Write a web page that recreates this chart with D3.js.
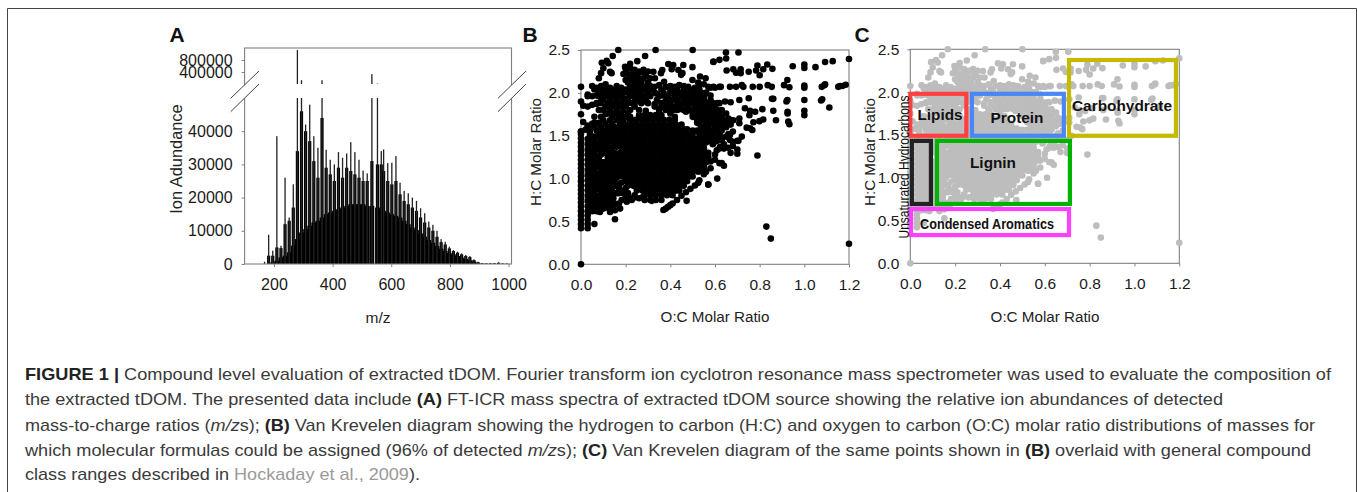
<!DOCTYPE html>
<html><head><meta charset="utf-8">
<script src="https://cdn.jsdelivr.net/npm/d3@7"></script>
<style>
html,body{margin:0;padding:0;background:#fff;overflow:hidden}
svg{display:block}
text{font-family:"Liberation Sans",Arial,sans-serif}
</style></head><body>
<svg id="c" width="1357" height="492"></svg>
<script>
// ---------- Panel A: spectrum ----------
const specMz = [168,182,196,210,224,238,252,266,280,294,308,322,336,350,364,378,392,406,420,434,448,462,476,490,504,518,534,553,566,574,588,602,616,630,644,658,672,686,700,714,728,742,756,770,784,798,812,826,840,854,868,882,896,910,924,938,952,966,980,994];
const specPeak = [700,8800,4000,38500,5500,26000,14000,24000,1130000,160000,42000,48000,38500,35000,160000,34400,31400,30000,33700,32000,33300,36700,33700,31400,28100,27300,340000,62000,34000,34500,30400,30500,32500,24500,22000,21300,20000,19000,16800,15300,12800,11800,10000,7500,6700,5200,4200,3700,3200,2700,2400,1400,700,300,250,250,300,500,200,150];
const specShoulder = [0,2500,2500,5000,4800,12000,13000,17000,34000,46000,40000,37000,31000,26000,44000,29000,27000,25000,29000,26000,29000,28000,27000,26000,25000,25000,31000,30000,30000,28000,25000,24000,25000,21000,19000,18000,17000,16000,14000,12500,11000,10000,8200,6600,5900,4700,3900,3400,2900,2400,2100,1200,550,220,180,180,220,350,120,100];
const specFloor = [0,0,500,1000,2000,2500,3500,5500,7500,9500,10500,11500,12500,13000,14000,15000,15500,16000,16500,17000,17500,18000,18000,18000,18000,17500,17500,17000,16500,16000,15500,15000,14500,14000,13000,12000,11000,10200,9200,8200,7200,6400,5400,4600,3900,3300,2900,2400,1900,1500,1100,700,250,0,0,0,0,0,0,0];
const specXTicks = [200,400,600,800,1000];
const specYLowTicks = [0,10000,20000,30000,40000];
const specYHighTicks = [400000,800000];

// ---------- Panels B, C: Van Krevelen points ----------
const rowHC = [1.74,1.685,1.63,1.575,1.52,1.465,1.41,1.355,1.30,1.245,1.19,1.135,1.08,1.025,0.97,0.915,0.86,0.805,0.75,
 2.04,2.0,1.96,1.92,1.88,1.84,1.80,1.76,1.72,1.68,1.64,1.60,1.56,1.52,1.48,1.44,
 .65,.71,.77,.83,.89,.95,1.01,1.07,1.13,1.19,1.25,1.31,1.37,1.43,1.49];
const rowOC = [
[26,28.5,31,33.5,36],
[22,24.5,27,29.5,32,34.5,37,39.5,42],
[17.5,20,22.5,25,27.5,30,32.5,35,37.5,40,42.5,45],
[14,16,18.5,21,23.5,26,28.5,31,33.5,36,38.5,41,43.5,46,47.5],
[12.5,15,17.5,20,22.5,25,27.5,30,32.5,35,37.5,40,42.5,45,47.5,50],
[9,13.5,16,18.5,21,23.5,26,28.5,31,33.5,36,38.5,41,43.5,46,48.5,51,52.5],
[10,15,17.5,20,22.5,25,27.5,30,32.5,35,37.5,40,42.5,45,47.5,50,52.5,54],
[8,11,13.5,18.5,21,23.5,26,28.5,31,33.5,36,38.5,41,43.5,46,48.5,51,53.5,55],
[10,12.5,15,17.5,20,22.5,25,27.5,30,32.5,35,37.5,40,42.5,45,47.5,50,52.5,55,56],
[8,13.5,16,18.5,21,23.5,26,28.5,31,33.5,36,38.5,41,43.5,46,48.5,51,53.5,56],
[10,15,17.5,20,22.5,25,27.5,30,32.5,35,37.5,40,42.5,45,47.5,50,52.5,55,56],
[8,11,13.5,16,18.5,21,23.5,26,28.5,31,33.5,36,38.5,41,43.5,46,48.5,51,53.5,55],
[10,12.5,17.5,20,22.5,25,27.5,30,32.5,35,37.5,40,42.5,45,47.5,50,52.5],
[8,13.5,16,18.5,21,23.5,26,28.5,31,33.5,36,38.5,41,43.5,46,48.5,50],
[10,15,20,22.5,25,27.5,30,32.5,35,37.5,40,42.5,45,47.5],
[12,16,21,23.5,26,28.5,31,33.5,36,38.5,41,43.5,46],
[19,25,27.5,30,32.5,35,37.5,40,42.5,44],
[24,28.5,31,33.5,36,38.5,41],
[28.5,31,33.5,36],
// upper band
[6,8,10,12,14,16,18,20,23,26,29,32,36,40,43,46,50,53],
[9,11,13,15,17,19,21,24,27,30,33,37,41,44,47,49,51,54,56],
[3,5,8,10,12,14,18,22,25,28,31,35,39,42,45,48,50,52,55],
[10,13,16,19,21,26,29,34,38,41,43,46,49,51,53,55,58],
[7,9,12,15,18,23,27,30,37,40,44,47,50,52,54,56,59,62],
[11,14,17,20,24,33,36,39,42,45,48,51,53,55,57,60],
[8,10,13,16,19,22,35,38,41,43,46,49,52,54,56,58,61,63],
[12,15,18,21,40,50,53,55,57,59,62,65],
[6,9,14,17,20,22,42,51,54,56,58,60,63],
[10,13,16,19,52,55,57,60,62,64,67],
[5,8,11,14,53,56,58,61,64,66],
[3,6,9,12,15,54,57,60,63],
[7,10,13,50,52,55,58,61],
[4,8,53,56,59,62],
[6,54,57,60,63,66],
[55,58,61],
// left mass
[4,6,8,10],
[4,6,9,11,13,15,17],
[4,6,8,10,12,14,20,22],
[4,6,9,11,13,15,17,19,21],
[4,6,8,10,12,14,17,20],
[4,6,9,11,13,15,18],
[4,6,8,10,12,14,16],
[4,6,9,11,13,15,18],
[4,6,8,10,14,16],
[4,6,9,11,13,18],
[4,6,8,12,15,17],
[4,6,9,11,14,19],
[4,6,8,10,12,16],
[4,6,9,11,13,15,18],
[4,6,8,10,12]
];
const sparseOC = [
0,1.2,1.2,.83,.85,.79,.61,.57,.63,.473,.152,.06,
.649,.705,.593,.62,.65,.948,1,1,1.05,1.093,1.127,
.79,.784,.834,.857,.816,.80,.652,.682,.694,.715,.715,.751,
.593,.626,.667,.694,.72,.727,.769,.80,.836,.854,.924,.909,.933,1,1.078,1.093,1.152,1.185,1.16,1.17,1.09,1,
.645,.67,.709,.751,.861,.924,1,1.08,1.112,.855,.92,1.075,
.734,.757,.754,.78,.812,.861,.925,1,1,.709,.66,.682,.925,
.772,.799,.816,.873,.928,.933,.709,.757,.742,.767,.72,.705,.667,.667,.623,.638,.593,.608,
.167,.334,.5,.142,.287,.252,.22,.197,.093,.115,.122,.10,.09,.08,.13,.137,
.324,.358,.364,.331,.372,.391,.413,.406,.458,.436,.448,.454,.499,.499,.525,.533,.558,.593,
.2,.22,.24,.26,.28,.3,.19,.21,.23,.25,.27,.29,.31,.2,.22,.24,.26,.28,.3,.21,.23,.25,.27,.29,.22,.24,.26,.28,.25,.27,
.0,.05,.07,.09,.11,.13,.16,.18,.31,.33,.35,.38,.40,.42,.44,.46,.48,.51,.53,.55,.57,.58,.60,.62,
0,0,.0,.01,.03,.05,.07,.03,.08,.1,.12,.14,.16,.18,.2,.22,.1,.13,.15,.17,.19,.21,.07,.09,.11,.14,.16,.18,.05,.08,.1,.12,.14,.03,.06,.02,.01,.04,
.24,.27,.3,.34,.37,.4,.43,.46,.24,.28,.33,.36,.39,.43,.45,.48,.41,.44,.47,.26,.29,.35,.38,.41,.44,.47,.5,.43,.46,.49,
.5,.52,.54,.56,.58,.5,.53,.55,.57,.59,.61,.51,.53,.55,.57,.6,.5,.52,.54,.58,.6,.62,.65,.52,.54,.56,.59,.62,.65,.67,.53,.55,.57,.6,.63,.66,.68,.55,.58,.6,.63,.65,.68,.7,
.56,.59,.61,.64,.66,.68,.7,.57,.6,.64,.67,.7,.57,.59,.62,.64,.58,.6,.62,.64,
.369,.38,.39,.40,.41,.43,.45,.47,.49,.51,.53,.55,.56,.525,.57,.54,.58,
.085,.13,.152,.175,.145,.16,.182,.205,.227,.279,.317,.11,.12,.14,.16,.18,.2,.24,.26,
0,0,0,0,0,0,0,0,0,0,0,0,0,0,0,0,0,0,0,0,0,0,0,0,
.03,.03,.03,.03,.03,.03,.03,.03,.03,.03,.03,.03,.03,.03,.03,.03,.03,.03,.03,
.05,.05,.05,.05,.05,.05,.05,.05,.05,.05,.05,.05,.05,.05,
.07,.07,.07,.07,.07,.07,.07,.07,.07,.07,.07,.07,.07,
.09,.09,.09,.09,.09,.09,.09,.09,.09,.09
];
const sparseHC = [
0,2.395,.24,.44,.3,1.27,1.0,.93,1.18,.74,.525,.47,
2.47,2.47,2.36,2.385,2.40,2.31,2.33,2.29,2.30,2.36,2.37,
2.32,2.26,2.33,2.28,2.275,2.205,2.26,2.275,2.235,2.275,2.23,2.247,
2.07,2.07,2.07,2.07,2.09,2.07,2.07,2.07,2.09,2.07,2.15,2.09,2.065,2.085,2.07,2.10,2.07,2.095,2.08,2.08,2.09,2.06,
1.90,1.89,1.917,1.937,1.93,1.917,1.917,1.925,1.83,1.93,1.9,1.91,
1.82,1.79,1.74,1.78,1.81,1.79,1.78,1.79,1.74,1.70,1.70,1.68,1.76,
1.657,1.67,1.69,1.68,1.664,1.634,1.645,1.587,1.594,1.567,1.49,1.44,1.51,1.45,1.37,1.37,1.41,1.33,
2.5,2.5,2.5,2.43,2.43,2.37,2.34,2.305,2.35,2.375,2.345,2.287,2.23,2.17,2.247,2.23,
2.247,2.23,2.267,2.17,2.13,2.337,2.325,2.275,2.325,2.267,2.21,2.23,2.3,2.15,2.12,2.19,2.17,2.365,
2.28,2.29,2.27,2.25,2.27,2.25,2.22,2.22,2.22,2.22,2.24,2.2,2.17,2.15,2.17,2.17,2.17,2.17,2.12,2.12,2.12,2.12,2.12,2.07,2.07,2.07,2.07,2.07,2.03,2.03,
2.07,2.08,2.06,2.08,2.1,2.06,2.08,2.06,2.08,2.07,2.09,2.07,2.08,2.07,2.09,2.08,2.07,2.06,2.1,2.1,2.07,2.06,2.06,2.07,
1.9,1.75,1.55,1.85,1.84,1.86,1.97,1.98,2.0,1.96,2.05,1.96,1.94,1.98,1.93,1.98,1.97,1.95,1.87,1.86,1.84,1.88,1.87,1.9,1.75,1.73,1.78,1.7,1.62,1.65,1.55,1.55,1.6,1.62,1.65,1.57,1.66,1.55,
1.95,1.97,2.0,1.99,1.97,2.0,2.0,2.0,1.88,1.9,1.87,1.88,1.89,1.9,1.87,1.87,1.83,1.81,1.78,1.8,1.79,1.8,1.81,1.8,1.82,1.8,1.79,1.92,1.94,1.91,
2.0,1.98,1.95,2.0,1.97,1.9,1.87,1.88,1.85,1.86,1.88,1.8,1.78,1.8,1.82,1.79,1.72,1.74,1.71,1.7,1.69,1.7,1.62,1.65,1.6,1.62,1.65,1.62,1.6,1.63,1.55,1.55,1.57,1.55,1.56,1.52,1.55,1.47,1.49,1.47,1.45,1.49,1.43,1.44,
1.42,1.4,1.45,1.4,1.36,1.38,1.34,1.3,1.28,1.35,1.3,1.29,1.25,1.41,1.35,1.37,1.2,1.22,1.18,1.15,
.634,.65,.67,.69,.71,.75,.80,.84,.88,.92,.98,1.05,1.08,.95,.93,1.1,1.12,
.61,.61,.63,.65,.77,.83,.75,.73,.75,.79,.74,.72,.66,.67,.7,.85,.8,.78,.77,
.42,.47,.52,.57,.62,.67,.72,.77,.82,.87,.92,.97,1.02,1.07,1.12,1.17,1.22,1.27,1.32,1.37,1.42,1.47,1.52,1.55,
.42,.47,.52,.57,.62,.68,.74,.8,.86,.92,.98,1.04,1.1,1.16,1.22,1.28,1.34,1.4,1.46,
.62,.68,.74,.8,.86,.92,.98,1.04,1.1,1.16,1.22,1.28,1.36,1.44,
.62,.68,.74,.8,.88,.94,1.0,1.06,1.14,1.2,1.26,1.34,1.42,
.66,.72,.78,.86,.92,1.0,1.06,1.18,1.28,1.38
];
const vkXTicks = [0,.2,.4,.6,.8,1,1.2];
const vkYTicks = [0,.5,1,1.5,2,2.5];

// ---------- Panel C: class boxes ----------
const boxNames = ["Lipids","Protein","Carbohydrate","Unsaturated","Lignin","Condensed"];
const boxO0 = [0,.275,.708,.007,.119,.003];
const boxO1 = [.25,.685,1.185,.092,.712,.708];
const boxH0 = [1.49,1.49,1.49,.693,.693,.33];
const boxH1 = [1.98,1.98,2.375,1.43,1.43,.634];
const boxColors = ["#ff4040","#4a86f5","#c4bb00","#222222","#00b300","#ff40ff"];

const captionLines = [
 {end:1331,parts:[["FIGURE 1 | ","b"],["Compound level evaluation of extracted tDOM. Fourier transform ion cyclotron resonance mass spectrometer was used to evaluate the composition of",""]]},
 {end:1223,parts:[["the extracted tDOM. The presented data include ",""],["(A) ","b"],["FT-ICR mass spectra of extracted tDOM source showing the relative ion abundances of detected",""]]},
 {end:1315,parts:[["mass-to-charge ratios (",""],["m/z","i"],["s); ",""],["(B) ","b"],["Van Krevelen diagram showing the hydrogen to carbon (H:C) and oxygen to carbon (O:C) molar ratio distributions of masses for",""]]},
 {end:1311,parts:[["which molecular formulas could be assigned (96% of detected ",""],["m/z","i"],["s); ",""],["(C) ","b"],["Van Krevelen diagram of the same points shown in ",""],["(B) ","b"],["overlaid with general compound",""]]},
 {end:420,parts:[["class ranges described in ",""],["Hockaday et al., 2009","g"],[").",""]]}
];
const captionBase = [380,405,431,456,480];

const svg = d3.select("#c");
const GRAY = "#808080", INK = "#1a1a1a";

svg.append("path").attr("d","M7.5,492V8.5H1356.5V492").attr("fill","none").attr("stroke","#444").attr("stroke-width",1);

function styleAxis(g,fs){
  g.selectAll("path").remove();
  g.selectAll("line").attr("stroke",GRAY).attr("stroke-width",1);
  g.selectAll("text").attr("font-size",fs).attr("fill",INK).attr("font-family","Liberation Sans");
}
function frame(x0,x1,y0,y1){
  svg.append("rect").attr("x",x0).attr("y",y0).attr("width",x1-x0).attr("height",y1-y0)
    .attr("fill","none").attr("stroke",GRAY).attr("stroke-width",1.1);
}
function label(t,x,y,o={}){
  const e=svg.append("text").attr("x",x).attr("y",y).attr("text-anchor",o.anchor||"middle")
   .attr("font-size",o.size||15.2).attr("fill",o.fill||"#222").attr("font-weight",o.weight||"normal").text(t);
  if(o.rot) e.attr("transform",`rotate(${o.rot} ${x} ${y})`);
  if(o.len) e.attr("textLength",o.len).attr("lengthAdjust","spacingAndGlyphs");
  return e;
}

// ---- A ----
const xA = d3.scaleLinear().domain([100,1010]).range([244.6,511.5]);
const yLow = d3.scaleLinear().domain([0,50000]).range([264,98]).clamp(true);
const yHigh = d3.scaleLinear().domain([50000,400000,800000,1200000]).range([84,72,60,48]).clamp(true);
const specIdx = d3.range(specMz.length);
const gA = svg.append("g");
gA.selectAll(".f").data(specIdx).join("rect")
  .attr("x",i=>xA(specMz[i])-2.4).attr("width",4.8).attr("y",i=>yLow(specFloor[i]))
  .attr("height",i=>yLow(0)-yLow(specFloor[i])).attr("fill","#000");
gA.selectAll(".s").data(specIdx).join("rect")
  .attr("x",i=>xA(specMz[i])-1.6).attr("width",3.2).attr("y",i=>yLow(specShoulder[i]))
  .attr("height",i=>yLow(0)-yLow(specShoulder[i])).attr("fill","#000");
gA.selectAll(".p").data(specIdx).join("rect")
  .attr("x",i=>xA(specMz[i])-.65).attr("width",1.3).attr("y",i=>yLow(specPeak[i]))
  .attr("height",i=>yLow(0)-yLow(specPeak[i])).attr("fill","#222");
gA.selectAll(".u").data(specIdx.filter(i=>specPeak[i]>50000)).join("rect")
  .attr("x",i=>xA(specMz[i])-.65).attr("width",1.3).attr("y",i=>yHigh(specPeak[i]))
  .attr("height",i=>yHigh(50000)-yHigh(specPeak[i])).attr("fill","#222");
frame(244.6,511.5,48,264);
svg.append("g").attr("transform","translate(0,264)")
  .call(d3.axisBottom(xA).tickValues(specXTicks).tickFormat(d3.format("d")).tickSize(3).tickPadding(12))
  .call(g=>styleAxis(g,16));
svg.append("g").attr("transform","translate(244.6,0)")
  .call(d3.axisLeft(yLow).tickValues(specYLowTicks).tickFormat(d3.format("d")).tickSize(3).tickPadding(9))
  .call(g=>styleAxis(g,16));
svg.append("g").attr("transform","translate(244.6,0)")
  .call(d3.axisLeft(yHigh).tickValues(specYHighTicks).tickFormat(d3.format("d")).tickSize(3).tickPadding(9))
  .call(g=>styleAxis(g,16));
[[230.7,259],[498,526]].forEach(([a,b])=>{
  svg.append("polygon").attr("points",`${a},98.3 ${b},71 ${b},84 ${a},111.7`).attr("fill","#fff");
  svg.append("line").attr("x1",a).attr("y1",98.3).attr("x2",b).attr("y2",71).attr("stroke","#444");
  svg.append("line").attr("x1",a).attr("y1",111.7).attr("x2",b).attr("y2",84).attr("stroke","#444");
});
label("Ion Adundance",182,159,{rot:-90,size:16.4});
label("m/z",378,323,{size:15.5});
label("A",177,42,{size:21,weight:"bold",fill:"#111"});

// ---- B & C ----
const pts = [];
rowHC.forEach((h,i)=>rowOC[i].forEach(o=>pts.push([o/100,h])));
sparseOC.forEach((o,i)=>pts.push([o,sparseHC[i]]));

function vk(x0,x1,y0,y1,color,ylabX,xlabX){
  const x=d3.scaleLinear().domain([0,1.2]).range([x0,x1]);
  const y=d3.scaleLinear().domain([0,2.5]).range([y0,y1]);
  frame(x0,x1,y1,y0);
  svg.append("g").attr("transform",`translate(0,${y0})`)
    .call(d3.axisBottom(x).tickValues(vkXTicks).tickFormat(d3.format(".1f")).tickSize(3).tickPadding(12))
    .call(g=>styleAxis(g,15.5));
  svg.append("g").attr("transform",`translate(${x0},0)`)
    .call(d3.axisLeft(y).tickValues(vkYTicks).tickFormat(d3.format(".1f")).tickSize(3).tickPadding(8))
    .call(g=>styleAxis(g,15.5));
  svg.append("g").selectAll("circle").data(pts).join("circle")
    .attr("cx",d=>x(d[0])).attr("cy",d=>y(d[1])).attr("r",3.3).attr("fill",color);
  label("H:C Molar Ratio",ylabX,152,{rot:-90});
  label("O:C Molar Ratio",xlabX,322);
  return {x,y};
}
vk(581,849,264.3,50,"#000",541,715);
label("B",530,42,{size:21,weight:"bold",fill:"#111"});
const C = vk(910.3,1179.3,263.3,49.3,"#bdbdbd",875,1045);
label("C",862,42,{size:21,weight:"bold",fill:"#111"});

svg.append("g").selectAll("rect").data(boxNames).join("rect")
  .attr("x",(d,i)=>C.x(boxO0[i])).attr("width",(d,i)=>C.x(boxO1[i])-C.x(boxO0[i]))
  .attr("y",(d,i)=>C.y(boxH1[i])).attr("height",(d,i)=>C.y(boxH0[i])-C.y(boxH1[i]))
  .attr("fill","none").attr("stroke",(d,i)=>boxColors[i]).attr("stroke-width",4.2);
const bl={size:15.5,weight:"bold",fill:"#111"};
label("Lipids",940,120,{...bl,len:45});
label("Protein",1017,123,{...bl,len:53});
label("Carbohydrate",1122,111,{...bl,len:100});
label("Lignin",993,168,{...bl,len:46});
label("Condensed Aromatics",987,229,{...bl,len:134});
label("Unsaturated Hydrocarbons",909,167,{rot:-90,size:15,fill:"#111",len:143});

// ---- caption ----
captionLines.forEach((l,i)=>{
  const t=svg.append("text").attr("x",25).attr("y",captionBase[i]).attr("font-size",17).attr("fill","#3a3a3a")
    .attr("textLength",l.end-25).attr("lengthAdjust","spacingAndGlyphs").style("white-space","pre");
  l.parts.forEach(([s,k])=>{
    const ts=t.append("tspan").text(s);
    if(k==="b") ts.attr("font-weight","bold").attr("fill","#222");
    if(k==="i") ts.attr("font-style","italic");
    if(k==="g") ts.attr("fill","#9a9a9a");
  });
});
</script>
</body></html>
